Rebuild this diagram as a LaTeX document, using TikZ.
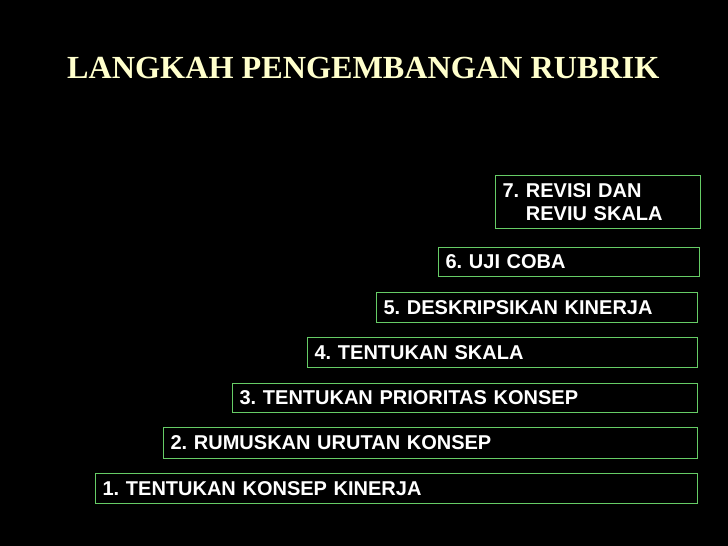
\documentclass[tikz,border=0pt]{standalone}
\usepackage{fontspec}
\setmainfont{Liberation Serif}
\newfontfamily\kotakfont{Liberation Sans}
\definecolor{hijau}{RGB}{102,204,102}
\definecolor{krem}{RGB}{255,255,204}
\frenchspacing
\begin{document}
\begin{tikzpicture}[x=1pt, y=-1pt,
    langkah/.style={draw=hijau, line width=1.2pt, anchor=north west, inner xsep=7pt, inner ysep=0pt,
      align=left, text=white, font=\kotakfont\bfseries\fontsize{20}{23}\selectfont}]
        % Background
        \fill[black] (0,0) rectangle (728,546);

        % Title
        \node[anchor=base west, inner sep=0pt, text=krem, font=\bfseries\fontsize{32.2}{38}\selectfont] (judul) at (67,78) {LANGKAH PENGEMBANGAN RUBRIK};

        % Steps
        \foreach \i/\x/\y/\w/\h/\teks in {1/95/473/602/30/{1. TENTUKAN KONSEP KINERJA},
            2/163/427/534/31/{2. RUMUSKAN URUTAN KONSEP},
            3/232/383/465/29/{3. TENTUKAN PRIORITAS KONSEP},
            4/307/337/390/30/{4. TENTUKAN SKALA},
            5/376/292/321/30/{5. DESKRIPSIKAN KINERJA},
            6/438/247/261/29/{6. UJI COBA},
            7/495/175/205/53/{7. REVISI DAN\\\phantom{7. }REVIU SKALA}}{
          \pgfmathsetmacro\lebar{\w-14}
          \node[langkah, text width=\lebar pt, minimum height=\h pt] (langkah\i) at (\x,\y) {\teks};
        }
\end{tikzpicture}
\end{document}
